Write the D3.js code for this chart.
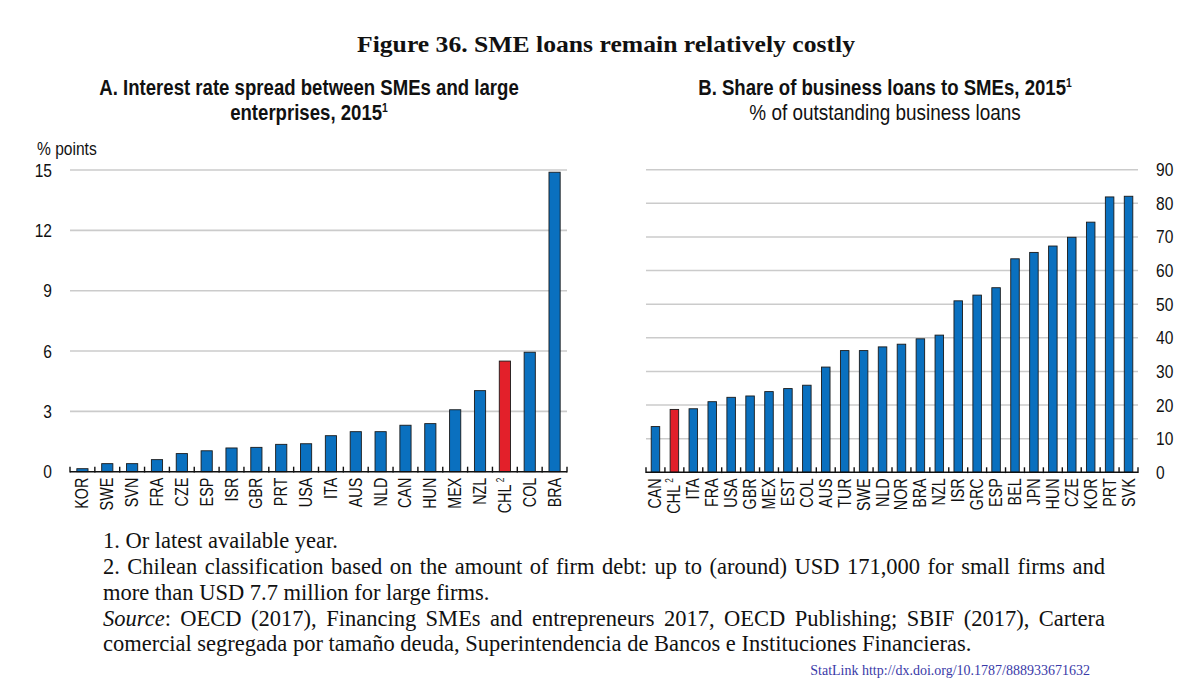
<!DOCTYPE html>
<html>
<head>
<meta charset="utf-8">
<script src="https://cdn.jsdelivr.net/npm/d3@7"></script>
<style>
  html, body { margin: 0; padding: 0; background: #fff; }
  svg { display: block; }
</style>
</head>
<body>
<svg id="chart" width="1200" height="680"></svg>
<script>
// ---- Data ----
const catsA = ["KOR","SWE","SVN","FRA","CZE","ESP","ISR","GBR","PRT","USA","ITA","AUS","NLD","CAN","HUN","MEX","NZL","CHL","COL","BRA"];
const valsA = [0.15,0.4,0.4,0.6,0.9,1.04,1.18,1.21,1.36,1.39,1.79,1.99,1.99,2.31,2.39,3.08,4.03,5.5,5.94,14.89];
const ticksA = [0,3,6,9,12,15];

const catsB = ["CAN","CHL","ITA","FRA","USA","GBR","MEX","EST","COL","AUS","TUR","SWE","NLD","NOR","BRA","NZL","ISR","GRC","ESP","BEL","JPN","HUN","CZE","KOR","PRT","SVK"];
const valsB = [13.6,18.7,18.9,21.0,22.3,22.7,24.0,24.9,25.9,31.3,36.2,36.2,37.3,38.1,39.7,40.8,51.0,52.7,54.9,63.5,65.4,67.3,69.9,74.4,81.9,82.1];
const ticksB = [0,10,20,30,40,50,60,70,80,90];

const highlight = "CHL"; // label gets superscript 2

const BLUE = "#0a70bf", RED = "#e3202a", GRID = "#cbcbcb";
const SANS = "'Liberation Sans',Arial,sans-serif";
const SERIF = "'Liberation Serif','Times New Roman',serif";
const NX = 0.82; // horizontal squeeze to imitate a narrow sans face

const svg = d3.select("#chart");

// narrow text helper: text drawn at (x,y), squeezed horizontally
function ntext(parent, x, y, anchor, size, weight, sx) {
  return parent.append("text")
    .attr("transform", `translate(${x},${y}) scale(${sx || NX},1)`)
    .attr("text-anchor", anchor).attr("font-family", SANS)
    .attr("font-size", size).attr("font-weight", weight || "normal").attr("fill", "#111");
}
function sup(sel, main, s, size) {
  sel.append("tspan").text(main);
  sel.append("tspan").attr("font-size", size).attr("dy", -8).text(s);
}

// ---- Titles ----
svg.append("text").attr("x", 606).attr("y", 52).attr("text-anchor", "middle")
  .attr("font-family", SERIF).attr("font-weight", "bold").attr("font-size", 24)
  .attr("textLength", 498).attr("lengthAdjust", "spacingAndGlyphs").attr("fill", "#111")
  .text("Figure 36. SME loans remain relatively costly");

const TS = 21.5, TX = 0.865;
ntext(svg, 309, 95, "middle", TS, "bold", TX).text("A. Interest rate spread between SMEs and large");
sup(ntext(svg, 309, 120, "middle", TS, "bold", TX), "enterprises, 2015", "1", 12);
sup(ntext(svg, 885, 95, "middle", TS, "bold", TX), "B. Share of business loans to SMEs, 2015", "1", 12);
ntext(svg, 885, 120, "middle", TS, "normal", 0.88).text("% of outstanding business loans");

ntext(svg, 37, 155, "start", 19, "normal").text("% points");

// ---- Panel drawing ----
function panel(cats, vals, ticks, x0, x1, yBottom, yTop, yMax, axisSide) {
  const g = svg.append("g");
  const x = d3.scaleBand().domain(cats).range([x0, x1]).paddingInner(0.55).paddingOuter(0.275);
  const y = d3.scaleLinear().domain([0, yMax]).range([yBottom, yTop]);

  // gridlines
  g.selectAll(".grid").data(ticks.filter(t => t > 0)).join("line")
    .attr("x1", x0).attr("x2", x1)
    .attr("y1", d => y(d)).attr("y2", d => y(d))
    .attr("stroke", GRID).attr("stroke-width", 1.6);

  // tick labels
  ticks.forEach(t => {
    ntext(g, axisSide === "left" ? 52 : 1156, y(t) + 6.5, axisSide === "left" ? "end" : "start", 19, "normal").text(t);
  });

  // bars
  g.selectAll(".bar").data(cats).join("rect")
    .attr("x", d => x(d)).attr("width", x.bandwidth())
    .attr("y", (d, i) => y(vals[i])).attr("height", (d, i) => y(0) - y(vals[i]))
    .attr("fill", d => d === highlight ? RED : BLUE)
    .attr("stroke", "#1a1a1a").attr("stroke-width", 0.9);

  // baseline axis
  g.append("line").attr("x1", x0).attr("x2", x1).attr("y1", y(0)).attr("y2", y(0))
    .attr("stroke", "#111").attr("stroke-width", 1.6);
  const step = x.step();
  const bounds = d3.range(cats.length + 1).map(i => x0 + i * step);
  g.selectAll(".tk").data(bounds).join("line")
    .attr("x1", d => d).attr("x2", d => d)
    .attr("y1", y(0) - 5).attr("y2", y(0) + 0.8)
    .attr("stroke", "#111").attr("stroke-width", 1.4);

  // category labels (rotated)
  const lab = g.selectAll(".cl").data(cats).join("text")
    .attr("transform", d => `translate(${x(d) + x.bandwidth() / 2 + 6},${y(0) + 6}) rotate(-90) scale(${NX},1)`)
    .attr("text-anchor", "end")
    .attr("font-family", SANS).attr("font-size", 17.5).attr("fill", "#111");
  lab.each(function(d) {
    const t = d3.select(this);
    t.append("tspan").text(d);
    if (d === highlight) t.append("tspan").attr("font-size", 10).attr("dy", -7).text(" 2");
  });
}

panel(catsA, valsA, ticksA, 70, 567, 471.7, 170, 15, "left");
panel(catsB, valsB, ticksB, 646, 1138, 472.3, 169.7, 90, "right");

// ---- Footnotes (justified by word spacing) ----
const fn = svg.append("g").attr("font-family", SERIF).attr("font-size", 22.5).attr("fill", "#111");
const FX = 103, FW = 1002;
function justify(t, str) {
  const nat = t.node().getComputedTextLength();
  const spaces = (str.match(/ /g) || []).length;
  if (spaces > 0 && nat < FW) t.attr("word-spacing", (FW - nat) / spaces);
}
fn.append("text").attr("x", FX).attr("y", 548).text("1. Or latest available year.");
const l2s = "2. Chilean classification based on the amount of firm debt: up to (around) USD 171,000 for small firms and";
const l2 = fn.append("text").attr("x", FX).attr("y", 574).text(l2s);
justify(l2, l2s);
fn.append("text").attr("x", FX).attr("y", 600).text("more than USD 7.7 million for large firms.");
const srcRest = ": OECD (2017), Financing SMEs and entrepreneurs 2017, OECD Publishing; SBIF (2017), Cartera";
const src = fn.append("text").attr("x", FX).attr("y", 625.5);
src.append("tspan").attr("font-style", "italic").text("Source");
src.append("tspan").text(srcRest);
justify(src, "Source" + srcRest);
fn.append("text").attr("x", FX).attr("y", 651)
  .text("comercial segregada por tamaño deuda, Superintendencia de Bancos e Instituciones Financieras.");

svg.append("text").attr("x", 1090).attr("y", 675).attr("text-anchor", "end")
  .attr("font-family", SERIF).attr("font-size", 14).attr("fill", "#3a3aa8")
  .text("StatLink   http://dx.doi.org/10.1787/888933671632");
</script>
</body>
</html>
